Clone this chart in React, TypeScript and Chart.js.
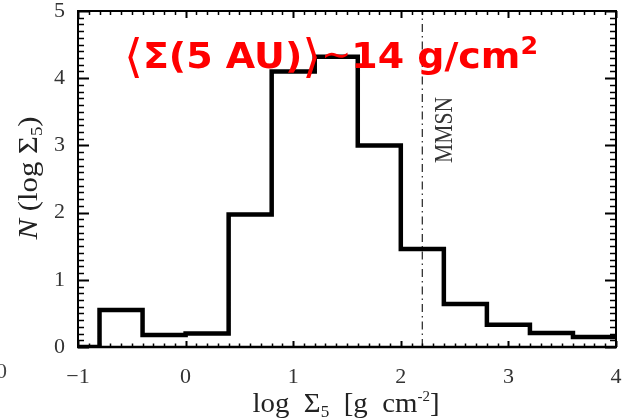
import { useEffect, useRef } from 'react';
import { Chart, registerables } from 'chart.js';

Chart.register(...registerables);

// ---- data ----
const binLeftEdges = [-1.0, -0.8, -0.4, 0.0, 0.4, 0.8, 1.2, 1.6, 2.0, 2.4, 2.8, 3.2, 3.6];
const binCounts = [0.0, 0.55, 0.18, 0.2, 1.97, 4.1, 4.32, 3.0, 1.46, 0.64, 0.33, 0.21, 0.15];
const histEnd = 4.0;
const xRange = [-1, 4];
const yRange = [0, 5];
const mmsnX = 2.2;
const mmsnLabel = 'MMSN';

const SERIF = '"Liberation Serif", "DejaVu Serif", serif';
const SANS = '"DejaVu Sans", Verdana, sans-serif';

type Run = { t: string; font: string; dy?: number };

function runsWidth(ctx: CanvasRenderingContext2D, runs: Run[]) {
  let w = 0;
  for (const r of runs) {
    ctx.font = r.font;
    w += ctx.measureText(r.t).width;
  }
  return w;
}

// draw runs anchored at (cx, baseline cy), rotated, stretched to a target length
function drawRunsFit(
  ctx: CanvasRenderingContext2D,
  runs: Run[],
  cx: number,
  cy: number,
  targetW: number,
  rot: number,
  align: 'center' | 'left' = 'center'
) {
  ctx.save();
  ctx.translate(cx, cy);
  ctx.rotate(rot);
  const w = runsWidth(ctx, runs);
  ctx.scale(targetW / w, 1);
  ctx.textBaseline = 'alphabetic';
  ctx.textAlign = 'left';
  let x = align === 'center' ? -w / 2 : 0;
  for (const r of runs) {
    ctx.font = r.font;
    ctx.fillText(r.t, x, r.dy || 0);
    x += ctx.measureText(r.t).width;
  }
  ctx.restore();
}

function fmtTick(v: number | string) {
  const n = Number(v);
  return n < 0 ? '\u2212' + Math.abs(n) : String(n);
}

export default function App() {
  const ref = useRef<HTMLCanvasElement>(null);

  useEffect(() => {
    const canvas = ref.current!;
    const histPoints = binLeftEdges.map((x, i) => ({ x, y: binCounts[i] }));
    histPoints.push({ x: histEnd, y: binCounts[binCounts.length - 1] });
    const mmsnLine = [
      { x: mmsnX, y: yRange[0] },
      { x: mmsnX, y: yRange[1] },
    ];

    const decor = {
      id: 'decor',
      afterDraw(chart: any) {
        const ctx: CanvasRenderingContext2D = chart.ctx;
        const { left, right, top, bottom } = chart.chartArea;
        const xs = chart.scales.x;
        const ys = chart.scales.y;
        ctx.save();
        ctx.strokeStyle = '#000';
        ctx.lineCap = 'butt';
        // frame
        ctx.lineWidth = 2;
        ctx.strokeRect(left, top, right - left, bottom - top);
        ctx.lineWidth = 2.5;
        ctx.beginPath();
        ctx.moveTo(left - 1, bottom);
        ctx.lineTo(right + 1, bottom);
        ctx.stroke();
        // inner ticks x (bottom + top)
        const nx = Math.round((xRange[1] - xRange[0]) * 10);
        for (let i = 0; i <= nx; i++) {
          const v = xRange[0] + i / 10;
          const px = Math.round(xs.getPixelForValue(v)) + 0.5;
          const major = i % 10 === 0;
          ctx.lineWidth = major ? 2 : 1.5;
          ctx.beginPath();
          ctx.moveTo(px, bottom);
          ctx.lineTo(px, bottom - (major ? 6 : 3.5));
          ctx.moveTo(px, top);
          ctx.lineTo(px, top + (major ? 7 : 4));
          ctx.stroke();
        }
        const ny = Math.round((yRange[1] - yRange[0]) * 10);
        for (let i = 0; i <= ny; i++) {
          const v = yRange[0] + i / 10;
          const py = Math.round(ys.getPixelForValue(v)) + 0.5;
          const major = i % 10 === 0;
          ctx.lineWidth = major ? 2 : 1.5;
          ctx.beginPath();
          ctx.moveTo(left, py);
          ctx.lineTo(left + (major ? 11 : 6), py);
          ctx.moveTo(right, py);
          ctx.lineTo(right - (major ? 11 : 6), py);
          ctx.stroke();
        }

        // axis titles
        ctx.fillStyle = '#222';
        drawRunsFit(
          ctx,
          [
            { t: 'log  \u03A3', font: `27px ${SERIF}` },
            { t: '5', font: `16px ${SERIF}`, dy: 5 },
            { t: '  [g  cm', font: `27px ${SERIF}` },
            { t: '-2', font: `14px ${SERIF}`, dy: -11 },
            { t: ']', font: `27px ${SERIF}` },
          ],
          346,
          412,
          187,
          0
        );
        drawRunsFit(
          ctx,
          [
            { t: 'N', font: `italic 28px ${SERIF}` },
            { t: ' (log \u03A3', font: `28px ${SERIF}` },
            { t: '5', font: `17px ${SERIF}`, dy: 5 },
            { t: ')', font: `28px ${SERIF}` },
          ],
          37,
          178,
          123,
          -Math.PI / 2
        );
        // MMSN label
        ctx.fillStyle = '#333';
        drawRunsFit(
          ctx,
          [{ t: mmsnLabel, font: `26px ${SERIF}` }],
          452,
          130,
          66,
          -Math.PI / 2
        );
        // stray cut-off label at the left edge
        ctx.fillStyle = '#444';
        ctx.font = `22px ${SERIF}`;
        ctx.textAlign = 'left';
        ctx.textBaseline = 'alphabetic';
        ctx.fillText('0', -4, 378);

        // red annotation
        ctx.fillStyle = '#ff0000';
        drawRunsFit(
          ctx,
          [
            { t: '\u27E8', font: `46px ${SANS}`, dy: 4 },
            { t: '\u03A3(5 AU)', font: `bold 36px ${SANS}` },
            { t: '\u27E9', font: `46px ${SANS}`, dy: 4 },
            { t: '\u223C', font: `34px ${SANS}`, dy: -2 },
            { t: '14 g/cm', font: `bold 36px ${SANS}` },
            { t: '2', font: `bold 24px ${SANS}`, dy: -14 },
          ],
          124,
          68,
          414,
          0,
          'left'
        );
        ctx.restore();
      },
    };

    const tickFont = { family: SERIF, size: 22 };
    const chart = new Chart(canvas, {
      type: 'line',
      data: {
        datasets: [
          {
            data: histPoints,
            borderColor: '#000',
            borderWidth: 4.5,
            stepped: true,
            pointRadius: 0,
            fill: false,
            borderJoinStyle: 'miter',
            borderCapStyle: 'butt',
          },
          {
            data: mmsnLine,
            borderColor: '#333',
            borderWidth: 1.3,
            borderDash: [8, 4, 1.5, 4],
            pointRadius: 0,
            fill: false,
          },
        ],
      },
      options: {
        responsive: false,
        animation: false,
        devicePixelRatio: 1,
        layout: { padding: { left: 0, right: 6, top: 11, bottom: 0 } },
        plugins: {
          legend: { display: false },
          tooltip: { enabled: false },
          title: { display: false },
        },
        scales: {
          x: {
            type: 'linear',
            min: xRange[0],
            max: xRange[1],
            grid: { display: false, drawTicks: false },
            border: { display: false },
            afterFit: (s: any) => {
              s.height = 72;
              s.paddingLeft = 0;
              s.paddingRight = 0;
            },
            ticks: {
              stepSize: 1,
              padding: 17,
              font: tickFont,
              color: '#333',
              maxRotation: 0,
              autoSkip: false,
              callback: (v: any) => fmtTick(v),
            },
          },
          y: {
            type: 'linear',
            min: yRange[0],
            max: yRange[1],
            grid: { display: false, drawTicks: false },
            border: { display: false },
            afterFit: (s: any) => {
              s.width = 78;
              s.paddingTop = 0;
              s.paddingBottom = 0;
            },
            ticks: {
              stepSize: 1,
              padding: 13,
              font: tickFont,
              color: '#333',
              callback: (v: any) => fmtTick(v),
            },
          },
        },
      } as any,
      plugins: [decor as any],
    });
    return () => chart.destroy();
  }, []);

  return (
    <div style={{ position: 'absolute', left: 0, top: 0, width: 622, height: 419, background: '#fff' }}>
      <canvas ref={ref} width={622} height={419} style={{ display: 'block' }} />
    </div>
  );
}
